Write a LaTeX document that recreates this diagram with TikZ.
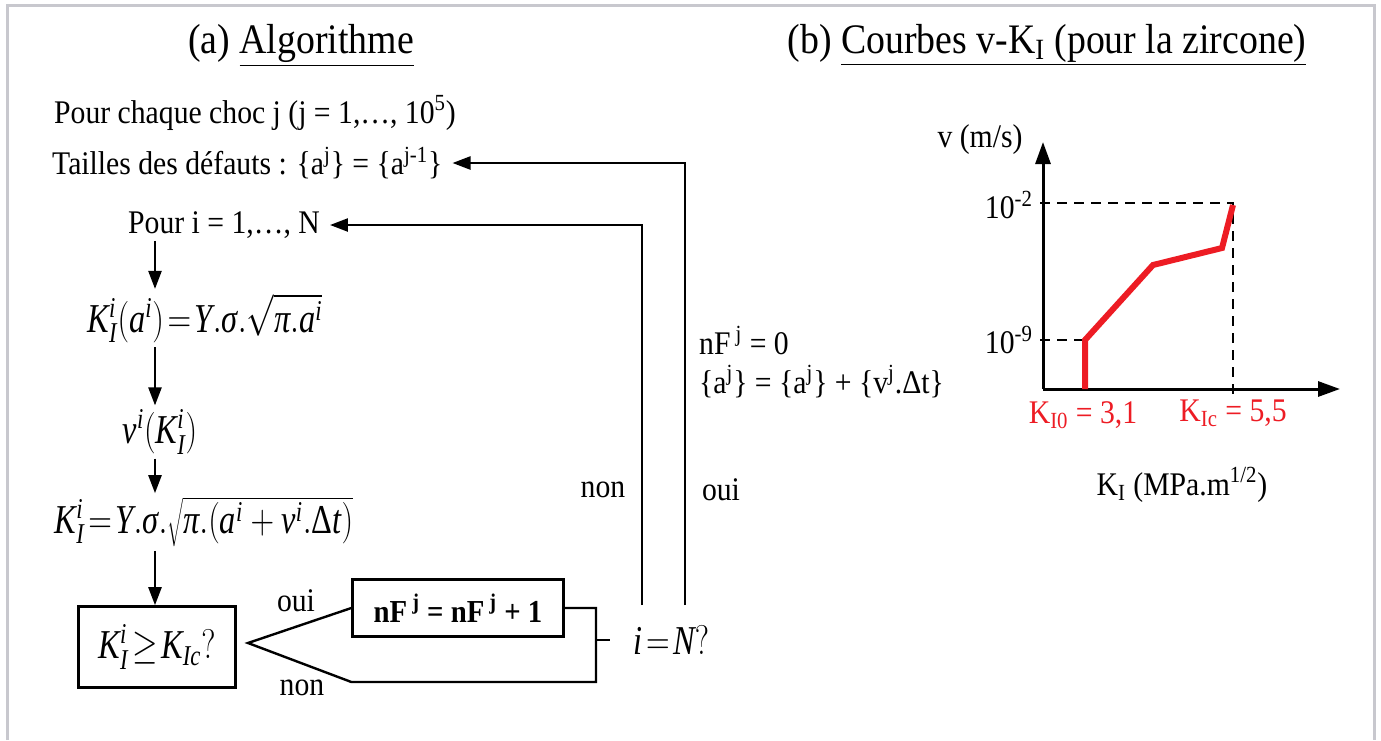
\documentclass[tikz,border=0pt]{standalone}
\usepackage{fontspec}
\setmainfont{Liberation Serif}
\usetikzlibrary{arrows.meta}
% lettres des formules en Liberation Serif italique
\DeclareSymbolFont{tlettres}{TU}{\rmdefault}{m}{it}
\newcount\lc
\lc=`A \loop \Umathcode\lc=7 \symtlettres \lc \advance\lc by 1 \ifnum\lc<`[ \repeat
\lc=`a \loop \Umathcode\lc=7 \symtlettres \lc \advance\lc by 1 \ifnum\lc<`\{ \repeat
\newcommand\sig{\mbox{\itshape σ}}
\newcommand\ppi{\mbox{\itshape π}}
\newcommand\dlt{\mbox{Δ}}
\definecolor{rouge}{RGB}{237,28,36}
\definecolor{cadre}{RGB}{200,200,206}
\tikzset{
  txt/.style={font=\fontsize{16.5}{19.5}\selectfont, inner sep=1pt, xscale=0.9},
  titre/.style={font=\fontsize{21}{24}\selectfont, inner sep=1pt, xscale=0.9},
  eqn/.style={font=\fontsize{20.5}{22}\selectfont, inner sep=2pt, xscale=0.79},
  boite/.style={draw, line width=1.3pt, inner sep=0pt},
  fleche/.style={line width=1.2pt, -{Triangle[length=9pt,width=6.5pt]}},
  trait/.style={line width=1.2pt},
  axe/.style={line width=1.5pt, -{Triangle[length=11pt,width=7.5pt]}},
  tirets/.style={line width=1.1pt, dash pattern=on 5pt off 3.5pt},
}
\begin{document}
\begin{tikzpicture}[x=0.5pt,y=-0.5pt]
  \useasboundingbox (0,0) rectangle (1381,740);
  % cadre
  \draw[cadre, line width=1.5pt] (7,740) -- (7,5) -- (1374,5) -- (1374,740);

  % titres
  \node[titre] (ta) at (301,45) {(a) \underline{Algorithme}};
  \node[titre] (tb) at (1047,45) {(b) \underline{Courbes v-K\textsubscript{I} (pour la zircone)}};

  % (a) algorithme
  \node[txt, anchor=west] (choc) at (52,113) {Pour chaque choc j (j = 1,…, 10\textsuperscript{5})};
  \node[txt, anchor=west] (taille) at (50,163) {Tailles des défauts : \{a\textsuperscript{j}\} = \{a\textsuperscript{j-1}\}};
  \node[txt] (bouclei) at (224,225) {Pour i = 1,…, N};
  \coordinate (col) at (155,0);
  \node[eqn] (kia) at (205,318) {$K_I^i\bigl(a^i\bigr)\!=\!Y.\sig.\sqrt{\ppi.a^i}$};
  \node[eqn] (vk) at (160,432) {$v^i\bigl(K_I^i\bigr)$};
  \node[eqn] (kiv) at (204,522) {$K_I^i\!=\!Y.\sig.\sqrt{\ppi.(a^i+v^i.\dlt t)}$};
  \node[boite, eqn, minimum width=99.4pt, minimum height=40.5pt] (test) at (157,647) {$K_I^i\!\geq\!K_{Ic}?$};
  \node[boite, txt, minimum width=117.2pt, minimum height=28.5pt, font=\fontsize{16}{18}\selectfont\bfseries] (incr) at (458,608) {nF\textsuperscript{ j} = nF\textsuperscript{ j} + 1};
  \node[eqn, anchor=west] (fin) at (630,640) {$i\!=\!N?$};

  \foreach \a/\b in {bouclei/kia, kia/vk, vk/kiv, kiv/test}
    \draw[fleche] (\a.south -| col) -- (\b.north -| col);

  % branches oui / non
  \coordinate (split) at (248,643);
  \coordinate (brk) at (596,682);
  \draw[trait] (incr.west) -- (split) -- (incr.west |- brk) -- (brk) |- (incr.east);
  \draw[trait] (brk |- fin) -- ++(14,0);
  \node[txt] (ouiA) at (296,601) {oui};
  \node[txt] (nonA) at (302,688) {non};

  % retours
  \coordinate (retnon) at (642,605);
  \coordinate (retoui) at (685,605);
  \draw[fleche, shorten >=4pt] (retnon) |- (bouclei.east);
  \draw[fleche, shorten >=4pt] (retoui) |- (taille.east);
  \node[txt] (nonB) at (603,490) {non};
  \node[txt] (ouiB) at (721,490) {oui};
  \node[txt, anchor=west, align=left] (maj) at (697,362) {nF\textsuperscript{ j} = 0\\\{a\textsuperscript{j}\} = \{a\textsuperscript{j}\} + \{v\textsuperscript{j}.Δt\}};

  % (b) courbe v-K
  \coordinate (O) at (1043,389);
  \draw[axe] (O) -- (1043,142);
  \draw[axe] (O) -- (1340,389);
  \draw[tirets] (1040,203) -- (1233,203) -- (1233,397);
  \draw[tirets] (1040,340) -- (1085,340);
  \draw[rouge, line width=3pt] (1085,389) -- (1085,340) -- (1153,265) -- (1222,248) -- (1233,205);
  \node[txt, anchor=east] (vmax) at (1035,205) {10\textsuperscript{-2}};
  \node[txt, anchor=east] (vmin) at (1035,340) {10\textsuperscript{-9}};
  \node[txt] (vaxe) at (980,140) {v (m/s)};
  \node[txt, text=rouge] (k0) at (1083,415) {K\textsubscript{I0} = 3,1};
  \node[txt, text=rouge] (kc) at (1233,413) {K\textsubscript{Ic} = 5,5};
  \node[txt] (kaxe) at (1182,485) {K\textsubscript{I} (MPa.m\textsuperscript{1/2})};
\end{tikzpicture}
\end{document}
